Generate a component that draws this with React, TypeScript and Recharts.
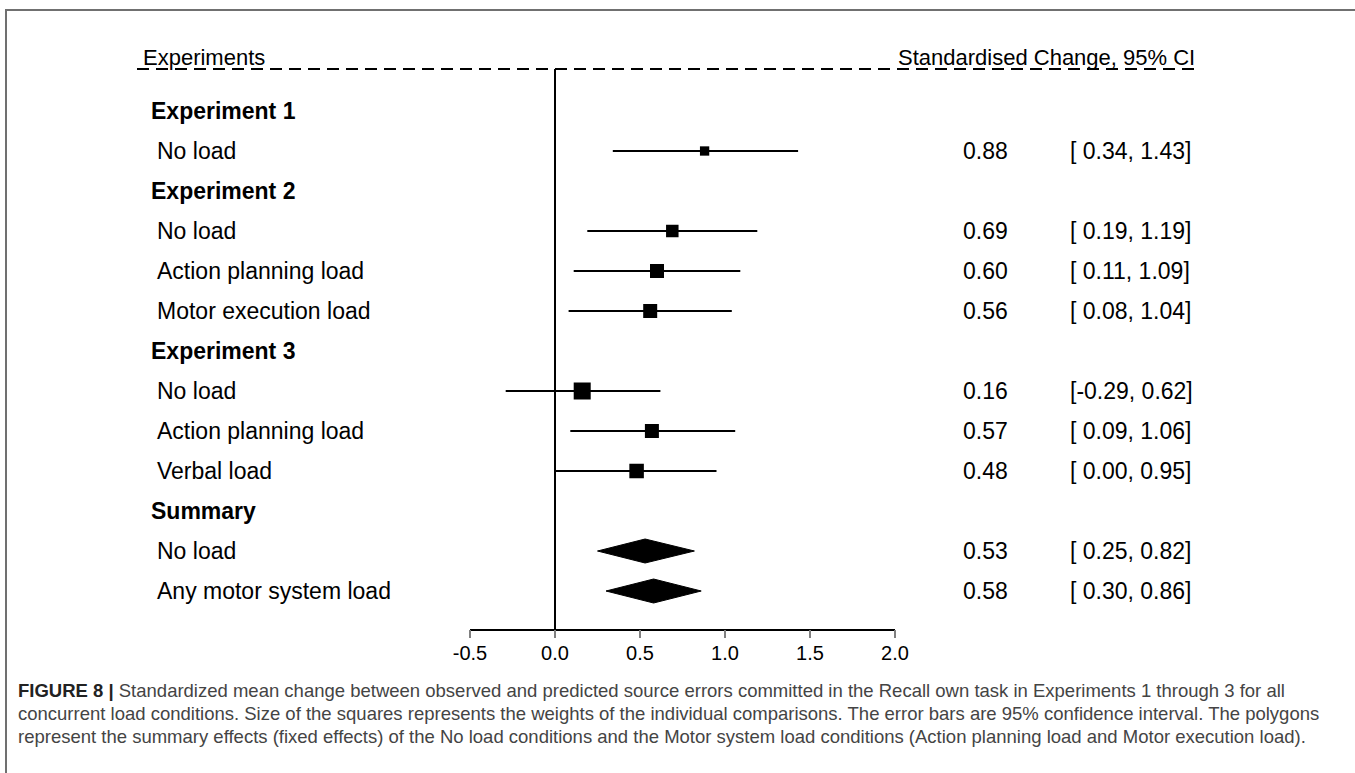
import React from 'react';
import { ComposedChart, XAxis, YAxis, Scatter, ReferenceLine, ReferenceArea } from 'recharts';

// ---------- data ----------
const rowLabels = [
  'Experiment 1',
  'No load',
  'Experiment 2',
  'No load',
  'Action planning load',
  'Motor execution load',
  'Experiment 3',
  'No load',
  'Action planning load',
  'Verbal load',
  'Summary',
  'No load',
  'Any motor system load',
];
const headingRows = [0, 2, 6, 10];

const studyRows = [1, 3, 4, 5, 7, 8, 9];
const studyEstimates = [0.88, 0.69, 0.6, 0.56, 0.16, 0.57, 0.48];
const studyLower = [0.34, 0.19, 0.11, 0.08, -0.29, 0.09, 0.0];
const studyUpper = [1.43, 1.19, 1.09, 1.04, 0.62, 1.06, 0.95];
const studyWeights = [6.5, 11.7, 14.7, 14.7, 21.7, 14.7, 15.8];

const summaryRows = [11, 12];
const summaryEstimates = [0.53, 0.58];
const summaryLower = [0.25, 0.3];
const summaryUpper = [0.82, 0.86];

const xTicks = [-0.5, 0, 0.5, 1, 1.5, 2];
const headerLeft = 'Experiments';
const headerRight = 'Standardised Change, 95% CI';
const captionBold = 'FIGURE 8 |';
const captionLines = [
  ' Standardized mean change between observed and predicted source errors committed in the Recall own task in Experiments 1 through 3 for all',
  'concurrent load conditions. Size of the squares represents the weights of the individual comparisons. The error bars are 95% confidence interval. The polygons',
  'represent the summary effects (fixed effects) of the No load conditions and the Motor system load conditions (Action planning load and Motor execution load).',
];

// ---------- derived tables ----------
const FONT = '"Liberation Sans", Arial, Helvetica, sans-serif';

const studyData = studyRows.map((r, i) => ({
  x: studyEstimates[i],
  y: r,
  lo: studyLower[i],
  hi: studyUpper[i],
  w: studyWeights[i],
}));
const summaryData = summaryRows.map((r, i) => ({
  est: summaryEstimates[i],
  row: r,
  lo: summaryLower[i],
  hi: summaryUpper[i],
}));

const rowValues: Record<number, { est: number; lo: number; hi: number }> = {};
studyData.forEach((d) => (rowValues[d.y] = { est: d.x, lo: d.lo, hi: d.hi }));
summaryData.forEach((d) => (rowValues[d.row] = { est: d.est, lo: d.lo, hi: d.hi }));

const fmtCI = (lo: number, hi: number) =>
  `[${lo < 0 ? '' : '\u00A0'}${lo.toFixed(2)}, ${hi.toFixed(2)}]`;

const rowTicks = rowLabels.map((_, i) => i);

// ---------- renderers ----------
const RowTick = (props: any) => {
  const { y, payload } = props;
  const i = payload.value as number;
  const bold = headingRows.includes(i);
  const v = rowValues[i];
  const common = { fontSize: 23, fill: '#000', fontFamily: FONT, y: y, dy: 8 };
  return (
    <g>
      <text {...common} x={bold ? 151 : 157} fontWeight={bold ? 'bold' : 'normal'}>
        {rowLabels[i]}
      </text>
      {v && (
        <text {...common} x={963}>
          {v.est.toFixed(2)}
        </text>
      )}
      {v && (
        <text {...common} x={1070}>
          {fmtCI(v.lo, v.hi)}
        </text>
      )}
    </g>
  );
};

const SquareShape = (props: any) => {
  const { cx, cy, payload } = props;
  if (cx == null || cy == null) return null;
  const s = Math.sqrt(payload.w) * 3.65;
  return <rect x={cx - s / 2} y={cy - s / 2} width={s} height={s} fill="#000" />;
};

const makeDiamond = (frac: number) => (p: any) => {
  const { x, y, width, height } = p;
  if (x == null || y == null) return null;
  const cx = x + width * frac;
  const cy = y + height / 2;
  return (
    <polygon
      points={`${x},${cy} ${cx},${y} ${x + width},${cy} ${cx},${y + height}`}
      fill="#000"
      stroke="#000"
      strokeWidth={1}
    />
  );
};

export default function App() {
  return (
    <div
      style={{
        position: 'absolute',
        left: 0,
        top: 0,
        width: 1355,
        height: 773,
        overflow: 'hidden',
        background: '#fff',
        fontFamily: FONT,
      }}
    >
      <div
        style={{
          position: 'absolute',
          left: 5,
          top: 9,
          width: 1500,
          height: 1000,
          border: '2px solid #707070',
          boxSizing: 'border-box',
        }}
      />
      <svg
        width={1355}
        height={100}
        style={{ position: 'absolute', left: 0, top: 0, pointerEvents: 'none' }}
      >
        <text x={143} y={65} fontSize={22} fill="#000" fontFamily={FONT}>
          {headerLeft}
        </text>
        <text x={898} y={65} fontSize={22} fill="#000" fontFamily={FONT}>
          {headerRight}
        </text>
        <line x1={137} y1={69} x2={1198} y2={69} stroke="#000" strokeWidth={2} strokeDasharray="12 7" />
      </svg>
      <div style={{ position: 'absolute', left: 0, top: 0 }}>
        <ComposedChart
          width={1355}
          height={680}
          margin={{ top: 69, right: 460, bottom: 10, left: 0 }}
        >
          <XAxis
            type="number"
            dataKey="x"
            domain={[-0.5, 2]}
            ticks={xTicks}
            allowDataOverflow
            tickFormatter={(v: number) => v.toFixed(1)}
            axisLine={{ stroke: '#000', strokeWidth: 2 }}
            tickLine={{ stroke: '#808080', strokeWidth: 2 }}
            tickSize={8}
            tickMargin={8}
            height={40}
            tick={{ fill: '#000', fontSize: 20, fontFamily: FONT }}
            interval={0}
          />
          <YAxis
            type="number"
            dataKey="y"
            domain={[-1.05, 12.975]}
            reversed
            allowDataOverflow
            ticks={rowTicks}
            interval={0}
            width={470}
            axisLine={false}
            tickLine={false}
            tick={<RowTick />}
          />
          <ReferenceLine x={0} stroke="#000" strokeWidth={2} />
          {studyData.map((d, i) => (
            <ReferenceLine
              key={'ci' + i}
              segment={[
                { x: d.lo, y: d.y },
                { x: d.hi, y: d.y },
              ]}
              stroke="#000"
              strokeWidth={2}
            />
          ))}
          {summaryData.map((d, i) => (
            <ReferenceArea
              key={'dia' + i}
              x1={d.lo}
              x2={d.hi}
              y1={d.row - 0.3}
              y2={d.row + 0.3}
              shape={makeDiamond((d.est - d.lo) / (d.hi - d.lo))}
            />
          ))}
          <Scatter data={studyData} shape={<SquareShape />} isAnimationActive={false} />
        </ComposedChart>
      </div>
      <div
        style={{
          position: 'absolute',
          left: 18,
          top: 679,
          fontSize: 18.5,
          lineHeight: '23px',
          color: '#444',
          whiteSpace: 'nowrap',
          fontFamily: FONT,
        }}
      >
        <div>
          <span style={{ fontWeight: 'bold', color: '#222' }}>{captionBold}</span>
          {captionLines[0]}
        </div>
        <div>{captionLines[1]}</div>
        <div>{captionLines[2]}</div>
      </div>
    </div>
  );
}
